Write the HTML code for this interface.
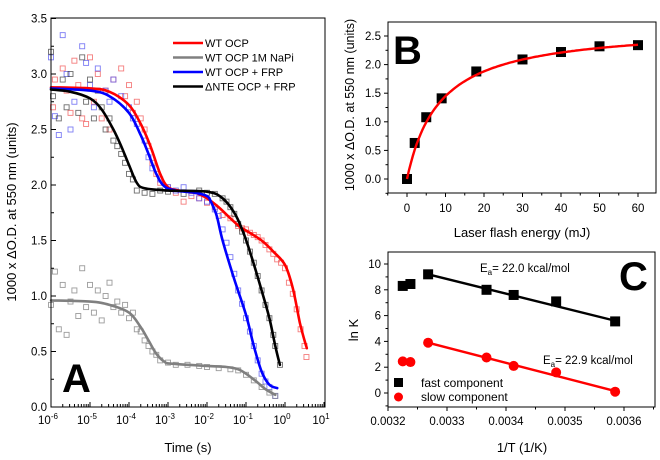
<!DOCTYPE html>
<html><head><meta charset="utf-8">
<style>
html,body{margin:0;padding:0;background:#fff;}
svg{display:block;font-family:"Liberation Sans",Arial,sans-serif;}
</style></head>
<body>
<svg id="fig" width="660" height="460" viewBox="0 0 660 460" xmlns="http://www.w3.org/2000/svg"></svg>
<script>
// ===== Panel A data (log10 time, value) =====
const aRedFit=[[-6,2.88],[-5,2.87],[-4.5,2.84],[-4,2.72],[-3.7,2.55],[-3.45,2.35],[-3.2,2.1],[-3,1.98],[-2.7,1.95],[-2.3,1.93],[-2,1.88],[-1.7,1.8],[-1.4,1.7],[-1.15,1.62],[-1,1.59],[-0.6,1.5],[-0.3,1.4],[0,1.28],[0.2,1.07],[0.38,0.76],[0.5,0.6],[0.56,0.53]];
const aGrayFit=[[-6,0.96],[-5,0.95],[-4.5,0.92],[-4,0.85],[-3.7,0.72],[-3.5,0.6],[-3.3,0.48],[-3.1,0.41],[-2.9,0.39],[-2,0.37],[-1.5,0.36],[-1.2,0.34],[-1,0.3],[-0.7,0.22],[-0.5,0.16],[-0.25,0.11]];
const aBlueFit=[[-6,2.87],[-5,2.85],[-4.5,2.8],[-4,2.65],[-3.7,2.45],[-3.5,2.28],[-3.3,2.1],[-3.1,1.99],[-2.8,1.95],[-2.3,1.93],[-2,1.9],[-1.9,1.85],[-1.75,1.72],[-1.6,1.5],[-1.3,1.15],[-1,0.83],[-0.8,0.55],[-0.6,0.32],[-0.4,0.2],[-0.2,0.17]];
const aBlackFit=[[-6,2.86],[-5.5,2.84],[-5,2.78],[-4.7,2.68],[-4.4,2.5],[-4.2,2.35],[-4,2.18],[-3.8,2.02],[-3.6,1.97],[-3,1.95],[-2,1.94],[-1.6,1.88],[-1.3,1.75],[-1.1,1.6],[-0.9,1.4],[-0.6,1.05],[-0.4,0.8],[-0.25,0.55],[-0.13,0.38]];
const aRedPts=[[-5.95,2.7],[-5.9,2.95],[-5.7,3.05],[-5.6,2.85],[-5.5,2.65],[-5.4,3.12],[-5.3,2.9],[-5.2,2.6],[-5.1,2.55],[-5,3.15],[-4.9,2.75],[-4.8,3.0],[-4.7,2.6],[-4.6,2.85],[-4.5,2.5],[-4.4,2.95],[-4.2,3.05],[-4.1,2.8],[-4,2.9],[-3.9,2.65],[-3.8,2.75],[-3.7,2.6],[-3.6,2.5],[-3.5,2.35],[-3.4,2.2],[-3.3,2.1],[-3.2,2.02],[-3,1.98],[-2.8,1.93],[-2.6,1.85],[-2.4,1.9],[-2.2,1.88],[-2,1.84],[-1.8,1.8],[-1.6,1.73],[-1.4,1.7],[-1.2,1.63],[-1.1,1.61],[-1,1.6],[-0.9,1.57],[-0.8,1.55],[-0.7,1.53],[-0.6,1.5],[-0.5,1.46],[-0.4,1.42],[-0.3,1.38],[-0.2,1.33],[-0.1,1.3],[0,1.25],[0.1,1.12],[0.2,1.02],[0.3,0.88],[0.4,0.7],[0.5,0.55],[0.55,0.45]];
const aBluePts=[[-6,3.15],[-5.9,2.62],[-5.8,2.45],[-5.7,3.35],[-5.6,3.0],[-5.5,2.5],[-5.4,2.75],[-5.2,3.25],[-5.1,3.1],[-5,2.9],[-4.9,2.7],[-4.8,3.05],[-4.6,2.85],[-4.5,2.75],[-4.4,2.95],[-4.2,2.8],[-4,2.7],[-3.9,2.6],[-3.8,2.55],[-3.6,2.4],[-3.5,2.25],[-3.4,2.15],[-3.2,2.05],[-3,1.98],[-2.8,1.95],[-2.6,1.98],[-2.4,1.93],[-2.2,1.88],[-2,1.85],[-1.8,1.78],[-1.7,1.72],[-1.6,1.6],[-1.5,1.48],[-1.4,1.35],[-1.3,1.2],[-1.2,1.05],[-1.1,0.93],[-1,0.8],[-0.9,0.68],[-0.8,0.55],[-0.7,0.42],[-0.6,0.3],[-0.5,0.23],[-0.4,0.18],[-0.25,0.1]];
const aBlackPts=[[-6,3.2],[-5.95,2.8],[-5.8,2.6],[-5.7,2.95],[-5.6,2.7],[-5.5,3.0],[-5.3,2.65],[-5.2,3.15],[-5.1,2.75],[-5,2.95],[-4.9,2.6],[-4.8,2.85],[-4.7,2.7],[-4.6,2.5],[-4.5,2.6],[-4.4,2.4],[-4.3,2.35],[-4.2,2.28],[-4.1,2.2],[-4,2.1],[-3.9,2.05],[-3.8,1.95],[-3.6,1.93],[-3.4,1.92],[-3.2,1.95],[-3,1.94],[-2.6,1.92],[-2.2,1.95],[-2,1.93],[-1.8,1.92],[-1.6,1.88],[-1.5,1.85],[-1.4,1.8],[-1.3,1.74],[-1.2,1.65],[-1.1,1.58],[-1,1.5],[-0.9,1.4],[-0.8,1.3],[-0.7,1.18],[-0.6,1.05],[-0.5,0.92],[-0.4,0.8],[-0.3,0.65],[-0.25,0.55],[-0.13,0.38]];
const aGrayPts=[[-6,0.92],[-5.9,1.22],[-5.8,0.7],[-5.7,1.1],[-5.6,0.65],[-5.5,0.95],[-5.4,1.05],[-5.3,0.82],[-5.2,1.25],[-5.1,0.9],[-5,1.1],[-4.9,0.85],[-4.8,1.05],[-4.7,0.78],[-4.6,1.0],[-4.5,1.12],[-4.4,0.9],[-4.3,0.95],[-4.2,0.85],[-4.1,0.92],[-4,0.8],[-3.9,0.85],[-3.8,0.7],[-3.7,0.68],[-3.6,0.6],[-3.5,0.55],[-3.4,0.5],[-3.3,0.47],[-3.2,0.42],[-3,0.4],[-2.8,0.38],[-2.5,0.38],[-2.2,0.37],[-2,0.36],[-1.7,0.35],[-1.4,0.34],[-1.2,0.33],[-1,0.29],[-0.8,0.24],[-0.6,0.18],[-0.4,0.13],[-0.25,0.1]];
const aYTicks=[0,0.5,1.0,1.5,2.0,2.5,3.0,3.5];
const aXDecades=[-6,-5,-4,-3,-2,-1,0,1];
const legendNames=["WT OCP","WT OCP 1M NaPi","WT OCP + FRP","\u0394NTE OCP + FRP"];
// ===== Panel B data =====
const bEnergy=[0,2,5,9,18,30,40,50,60];
const bSignal=[0,0.63,1.08,1.41,1.88,2.09,2.22,2.32,2.34];
const bFitParams=[2.68,8.5]; // A, K of hyperbolic fit
const bYTicks=[0,0.5,1.0,1.5,2.0,2.5];
const bXTicks=[0,10,20,30,40,50,60];
// ===== Panel C data =====
const cInvT=[0.003225,0.003238,0.003268,0.003367,0.003413,0.003485,0.003585];
const cFast=[8.3,8.45,9.2,8.0,7.6,7.1,5.55];
const cSlow=[2.45,2.4,3.9,2.75,2.1,1.6,0.1];
const cFastFit=[[0.003268,9.2],[0.003585,5.6]];
const cSlowFit=[[0.003268,3.9],[0.003585,0.15]];
const cYTicks=[0,2,4,6,8,10];
const cXTicks=[0.0032,0.0033,0.0034,0.0035,0.0036];

const NS="http://www.w3.org/2000/svg";
const svg=document.getElementById('fig');
function el(tag,attrs,parent,text){const e=document.createElementNS(NS,tag);for(const k in attrs)e.setAttribute(k,attrs[k]);if(text!==undefined)e.textContent=text;(parent||svg).appendChild(e);return e;}
function lin(d0,d1,r0,r1){return v=>r0+(v-d0)*(r1-r0)/(d1-d0);}
function smoothPath(P){let d='M'+P[0][0].toFixed(1)+','+P[0][1].toFixed(1);
 for(let i=0;i<P.length-1;i++){const p0=P[Math.max(i-1,0)],p1=P[i],p2=P[i+1],p3=P[Math.min(i+2,P.length-1)];
  const c1=[p1[0]+(p2[0]-p0[0])/6,p1[1]+(p2[1]-p0[1])/6],c2=[p2[0]-(p3[0]-p1[0])/6,p2[1]-(p3[1]-p1[1])/6];
  d+=' C'+c1[0].toFixed(1)+','+c1[1].toFixed(1)+' '+c2[0].toFixed(1)+','+c2[1].toFixed(1)+' '+p2[0].toFixed(1)+','+p2[1].toFixed(1);}
 return d;}

// ---------- Panel A ----------
const gA=el('g',{});


const axL=51,axR=325,axT=18,axB=407;
const xA=lin(-6,1,axL,axL+7*39), yA=lin(0,3.5,axB,axB-388.5);
function drawPts(arr,color,name){const g=el('g',{},gA);
 arr.forEach(p=>{const r=el('rect',{x:xA(p[0])-2.5,y:yA(p[1])-2.5,width:5,height:5,fill:'none',stroke:color,'stroke-width':0.9},g);});}
drawPts(aRedPts,'rgba(240,80,80,0.75)','wt-ocp-points');
drawPts(aBluePts,'rgba(80,80,240,0.75)','wt-ocp-frp-points');
drawPts(aBlackPts,'rgba(60,60,60,0.75)','dnte-ocp-frp-points');
drawPts(aGrayPts,'rgba(130,130,130,0.8)','wt-ocp-napi-points');
function drawCurve(arr,color,name){const p=el('path',{d:smoothPath(arr.map(q=>[xA(q[0]),yA(q[1])])),fill:'none',stroke:color,'stroke-width':2.6,'stroke-linejoin':'round','stroke-linecap':'round'},gA);}
drawCurve(aGrayFit,'#808080','wt-ocp-napi-fit');
drawCurve(aRedFit,'#ff0000','wt-ocp-fit');
drawCurve(aBlueFit,'#0000ff','wt-ocp-frp-fit');
drawCurve(aBlackFit,'#000000','dnte-ocp-frp-fit');
const frA=el('rect',{x:axL,y:axT,width:axR-axL,height:axB-axT,fill:'none',stroke:'#000','stroke-width':1},gA);

aYTicks.forEach(v=>{const y=yA(v);el('line',{x1:axL,x2:axL+5,y1:y,y2:y,stroke:'#000'},gA);
 const t=el('text',{x:axL-4,y:y+4,'text-anchor':'end','font-size':11.5},gA,v.toFixed(1));
 if(v<3.5){const ym=yA(v+0.25);el('line',{x1:axL,x2:axL+3,y1:ym,y2:ym,stroke:'#000'},gA);}});
aXDecades.forEach(d=>{const x=xA(d);el('line',{x1:x,x2:x,y1:axB,y2:axB-5,stroke:'#000'},gA);
 const t=el('text',{x:x-3,y:axB+17,'text-anchor':'middle','font-size':11.5},gA,'10');
 el('tspan',{dy:-5,'font-size':8},t,String(d));
 if(d<1){for(let k=2;k<10;k++){const xm=xA(d+Math.log10(k));el('line',{x1:xm,x2:xm,y1:axB,y2:axB-3,stroke:'#000'},gA);}}});
let t=el('text',{x:188,y:452,'text-anchor':'middle','font-size':13},gA,'Time (s)');
t=el('text',{x:0,y:0,'text-anchor':'middle','font-size':13,transform:'translate(16,212) rotate(-90)'},gA,'1000 x \u0394O.D. at 550 nm (units)');
t=el('text',{x:62,y:392,'font-size':40,'font-weight':'bold'},gA,'A');
const legCols=['#ff0000','#808080','#0000ff','#000000'];
const gL=el('g',{},gA);
legendNames.forEach((n,i)=>{const y=43+i*14.5;const g=el('g',{},gL);
 el('line',{x1:173,x2:203,y1:y,y2:y,stroke:legCols[i],'stroke-width':2.6},g);el('text',{x:205,y:y+4,'font-size':11},g,n);});

// ---------- Panel B ----------
const gB=el('g',{});


const bL=388,bR=656,bT=22,bB=193;
const xB=lin(0,60,407,638), yB=lin(0,2.5,179,36);
const fitPts=[];for(let e=0;e<=60;e+=0.5){fitPts.push(xB(e).toFixed(1)+','+yB(bFitParams[0]*e/(bFitParams[1]+e)).toFixed(1));}
bEnergy.forEach((e,i)=>{const r=el('rect',{x:xB(e)-5,y:yB(bSignal[i])-5,width:10,height:10,fill:'#000'},gB);});
let p=el('polyline',{points:fitPts.join(' '),fill:'none',stroke:'#ff0000','stroke-width':2.4},gB);
const frB=el('rect',{x:bL,y:bT,width:bR-bL,height:bB-bT,fill:'none',stroke:'#000'},gB);
bYTicks.forEach(v=>{const y=yB(v);el('line',{x1:bL-4,x2:bL,y1:y,y2:y,stroke:'#000'},gB);const tt=el('text',{x:bL-7,y:y+4,'text-anchor':'end','font-size':11.5},gB,v.toFixed(1));
 const ym=yB(v+0.25);if(ym>bT)el('line',{x1:bL-2.5,x2:bL,y1:ym,y2:ym,stroke:'#000'},gB);});
el('line',{x1:bL-2.5,x2:bL,y1:yB(-0.25),y2:yB(-0.25),stroke:'#000'},gB);
bXTicks.forEach(v=>{const x=xB(v);el('line',{x1:x,x2:x,y1:bB,y2:bB+4,stroke:'#000'},gB);const tt=el('text',{x:x,y:bB+19,'text-anchor':'middle','font-size':11.5},gB,String(v));
 const xm=xB(v+5);if(xm<bR)el('line',{x1:xm,x2:xm,y1:bB,y2:bB+2.5,stroke:'#000'},gB);});
el('line',{x1:xB(-5),x2:xB(-5),y1:bB,y2:bB+2.5,stroke:'#000'},gB);
t=el('text',{x:522,y:237,'text-anchor':'middle','font-size':13},gB,'Laser flash energy (mJ)');
t=el('text',{x:0,y:0,'text-anchor':'middle','font-size':12.5,transform:'translate(354,105) rotate(-90)'},gB,'1000 x \u0394O.D. at 550 nm (units)');
t=el('text',{x:393,y:64,'font-size':40,'font-weight':'bold'},gB,'B');

// ---------- Panel C ----------
const gC=el('g',{});


const cL=388,cR=655,cT=252,cB=407;
const xC=lin(0.0032,0.0036,388,624), yC=lin(0,10,393,264);
p=el('line',{x1:xC(cFastFit[0][0]),y1:yC(cFastFit[0][1]),x2:xC(cFastFit[1][0]),y2:yC(cFastFit[1][1]),stroke:'#000','stroke-width':2.4},gC);
p=el('line',{x1:xC(cSlowFit[0][0]),y1:yC(cSlowFit[0][1]),x2:xC(cSlowFit[1][0]),y2:yC(cSlowFit[1][1]),stroke:'#ff0000','stroke-width':2.4},gC);
cInvT.forEach((x,i)=>{const r=el('rect',{x:xC(x)-5,y:yC(cFast[i])-5,width:10,height:10,fill:'#000'},gC);
 const c=el('circle',{cx:xC(x),cy:yC(cSlow[i]),r:5,fill:'#ff0000'},gC);});
const frC=el('rect',{x:cL,y:cT,width:cR-cL,height:cB-cT,fill:'none',stroke:'#000'},gC);
cYTicks.forEach(v=>{const y=yC(v);el('line',{x1:cL-4,x2:cL,y1:y,y2:y,stroke:'#000'},gC);const tt=el('text',{x:cL-7,y:y+4,'text-anchor':'end','font-size':11.5},gC,String(v));
 const ym=yC(v+1);if(ym>cT)el('line',{x1:cL-2.5,x2:cL,y1:ym,y2:ym,stroke:'#000'},gC);});
el('line',{x1:cL-2.5,x2:cL,y1:yC(-1),y2:yC(-1),stroke:'#000'},gC);
cXTicks.forEach(v=>{const x=xC(v);el('line',{x1:x,x2:x,y1:cB,y2:cB+4,stroke:'#000'},gC);const tt=el('text',{x:x,y:cB+18,'text-anchor':'middle','font-size':11.5},gC,v.toFixed(4));
 const xm=xC(v+0.00005);if(xm<cR)el('line',{x1:xm,x2:xm,y1:cB,y2:cB+2.5,stroke:'#000'},gC);});
t=el('text',{x:522,y:452,'text-anchor':'middle','font-size':13},gC,'1/T (1/K)');
t=el('text',{x:0,y:0,'text-anchor':'middle','font-size':13,transform:'translate(358,330) rotate(-90)'},gC,'ln K');
t=el('text',{x:619,y:290,'font-size':40,'font-weight':'bold'},gC,'C');
t=el('text',{x:480,y:272,'font-size':11.5},gC,'E');
el('tspan',{dy:3,'font-size':8},t,'a');el('tspan',{dy:-3},t,'= 22.0 kcal/mol');
t=el('text',{x:543,y:364,'font-size':11.5},gC,'E');
el('tspan',{dy:3,'font-size':8},t,'a');el('tspan',{dy:-3},t,'= 22.9 kcal/mol');
const gLC=el('g',{},gC);
let le=el('g',{},gLC);
el('rect',{x:394,y:378,width:9,height:9,fill:'#000'},le);el('text',{x:421,y:387,'font-size':12},le,'fast component');
le=el('g',{},gLC);
el('circle',{cx:398.5,cy:397,r:4.5,fill:'#ff0000'},le);el('text',{x:421,y:401,'font-size':12},le,'slow component');
</script>
</body></html>
